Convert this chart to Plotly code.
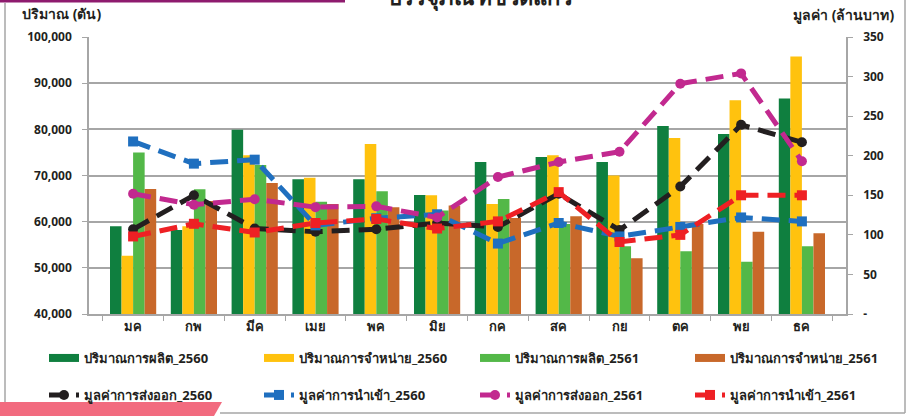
import plotly.graph_objects as go

months = ["มค", "กพ", "มีค", "เมย", "พค", "มิย", "กค", "สค", "กย", "ตค", "พย", "ธค"]

prod_2560 = [59000, 58200, 79900, 69200, 69200, 65800, 72900, 74000, 72900, 80700, 79000, 86700]
sales_2560 = [52600, 59000, 74400, 69500, 76800, 65700, 63800, 74400, 70000, 78100, 86300, 95800]
prod_2561 = [75000, 67000, 72300, 64300, 66600, 62400, 64900, 59500, 54700, 53600, 51300, 54700]
sales_2561 = [67100, 64500, 68400, 63800, 63100, 63500, 60800, 61200, 52100, 59500, 57800, 57500]

export_2560 = [107, 150, 108, 104, 107, 115, 110, 152, 106, 161, 239, 217]
import_2560 = [218, 190, 195, 112, 121, 126, 89, 115, 98, 110, 122, 117]
export_2561 = [152, 138, 145, 135, 136, 122, 173, 192, 205, 291, 304, 193]
import_2561 = [98, 114, 103, 115, 120, 108, 117, 154, 91, 100, 150, 150]

left_ticks = [40000, 50000, 60000, 70000, 80000, 90000, 100000]
left_tick_text = ["40,000", "50,000", "60,000", "70,000", "80,000", "90,000", "100,000"]
right_ticks = [0, 50, 100, 150, 200, 250, 300, 350]
right_tick_text = ["-", "50", "100", "150", "200", "250", "300", "350"]

bar_names = ["ปริมาณการผลิต_2560", "ปริมาณการจำหน่าย_2560", "ปริมาณการผลิต_2561", "ปริมาณการจำหน่าย_2561"]
line_names = ["มูลค่าการส่งออก_2560", "มูลค่าการนำเข้า_2560", "มูลค่าการส่งออก_2561", "มูลค่าการนำเข้า_2561"]

bar_colors = ["#0F7F3F", "#FFC20E", "#53B848", "#C8682A"]
line_colors = ["#231F20", "#1F6FBF", "#C2298F", "#EE2024"]
line_symbols = ["circle", "square", "circle", "square"]

FONT = "Noto Sans, DejaVu Sans, sans-serif"
W, H = 907, 416
L, R, T, B = 89, 846, 37, 314

def px_x(p):
    return (p - L) / (R - L)

def px_y(p):
    return (B - p) / (B - T)

fig = go.Figure()

bar_series = [prod_2560, sales_2560, prod_2561, sales_2561]
for vals, c, n in zip(bar_series, bar_colors, bar_names):
    fig.add_trace(go.Bar(x=months, y=vals, name=n, marker=dict(color=c, line=dict(width=0)),
                         showlegend=False, yaxis="y"))

line_series = [export_2560, import_2560, export_2561, import_2561]
for i, (vals, c, n, s) in enumerate(zip(line_series, line_colors, line_names, line_symbols)):
    fig.add_trace(go.Scatter(x=months, y=vals, name=n, mode="lines+markers", yaxis="y2",
                             line=dict(color=c, width=5, dash="18px,9px"),
                             marker=dict(symbol=s, size=10, color=c),
                             legend="legend" + str(5 + i)))

# legend proxies for bars (wide rectangle swatches)
for i, (c, n) in enumerate(zip(bar_colors, bar_names)):
    fig.add_trace(go.Scatter(x=[None], y=[None], name=n, mode="lines", yaxis="y",
                             line=dict(color=c, width=8),
                             legend="legend" + ("" if i == 0 else str(i + 1))))

col_x = [44, 259, 475, 690]
row_y = [358, 395]
legends = {}
for i in range(8):
    key = "legend" + ("" if i == 0 else str(i + 1))
    legends[key] = dict(x=px_x(col_x[i % 4]), y=px_y(row_y[i // 4]), xanchor="left", yanchor="middle",
                        bgcolor="rgba(0,0,0,0)", font=dict(family=FONT, size=13, color="#231F20", weight="bold"),
                        itemwidth=30)

fig.update_layout(
    width=W, height=H,
    margin=dict(l=L, r=W - R, t=T, b=H - B, autoexpand=False),
    paper_bgcolor="white", plot_bgcolor="white",
    barmode="group", bargap=0.24, bargroupgap=0,
    font=dict(family=FONT, color="#231F20"),
    xaxis=dict(showgrid=False, showline=True, linecolor="#A6A6A6", linewidth=1.5,
               ticks="outside", ticklen=5, tickcolor="#A6A6A6", tickson="boundaries",
               tickfont=dict(family=FONT, size=13, color="#231F20", weight="bold")),
    yaxis=dict(range=[40000, 100000], tickvals=left_ticks, ticktext=left_tick_text,
               showgrid=True, gridcolor="#A6A6A6", gridwidth=1.5,
               showline=True, linecolor="#A6A6A6", linewidth=1.5,
               ticks="outside", ticklen=5, tickcolor="#A6A6A6", ticklabelstandoff=8,
               tickfont=dict(family=FONT, size=12, color="#231F20", weight="bold"), zeroline=False),
    yaxis2=dict(range=[0, 350], tickvals=right_ticks, ticktext=right_tick_text, overlaying="y", side="right",
                showgrid=False, showline=True, linecolor="#A6A6A6", linewidth=1.5,
                ticks="outside", ticklen=5, tickcolor="#A6A6A6", ticklabelstandoff=8,
                tickfont=dict(family=FONT, size=12, color="#231F20", weight="bold"), zeroline=False),
    **legends,
)

fig.add_annotation(text="ปริมาณ (ตัน)", xref="paper", yref="paper", x=px_x(20), y=px_y(13),
                   xanchor="left", yanchor="middle", showarrow=False,
                   font=dict(family=FONT, size=14, color="#231F20", weight="bold"))
fig.add_annotation(text="มูลค่า (ล้านบาท)", xref="paper", yref="paper", x=px_x(896), y=px_y(15),
                   xanchor="right", yanchor="middle", showarrow=False,
                   font=dict(family=FONT, size=14, color="#231F20", weight="bold"))
fig.add_annotation(text="บรรจุภัณฑ์ขวดแก้ว", xref="paper", yref="paper", x=px_x(480), y=px_y(-3),
                   xanchor="center", yanchor="middle", showarrow=False,
                   font=dict(family=FONT, size=22, color="#231F20", weight="bold"))

# frame decorations
fig.add_shape(type="rect", xref="paper", yref="paper", x0=px_x(0), x1=px_x(345), y0=px_y(0), y1=px_y(2.5),
              fillcolor="#8E1B6E", line=dict(width=0), layer="above")
fig.add_shape(type="line", xref="paper", yref="paper", x0=px_x(5), x1=px_x(5), y0=px_y(3), y1=px_y(402),
              line=dict(color="#A6A6A6", width=1.5))
fig.add_shape(type="line", xref="paper", yref="paper", x0=px_x(905), x1=px_x(905), y0=px_y(0), y1=px_y(413),
              line=dict(color="#A6A6A6", width=1.5))
fig.add_shape(type="line", xref="paper", yref="paper", x0=px_x(220), x1=px_x(905), y0=px_y(413), y1=px_y(413),
              line=dict(color="#A6A6A6", width=1.5))
fig.add_shape(type="path", xref="paper", yref="paper",
              path="M {} {} L {} {} L {} {} L {} {} Z".format(px_x(0), px_y(402), px_x(222), px_y(402),
                                                              px_x(214), px_y(416), px_x(0), px_y(416)),
              fillcolor="#F26B7F", line=dict(width=0))

fig.write_html("out.html", config={"displayModeBar": False},
               post_script="document.body.style.margin='0px';")
